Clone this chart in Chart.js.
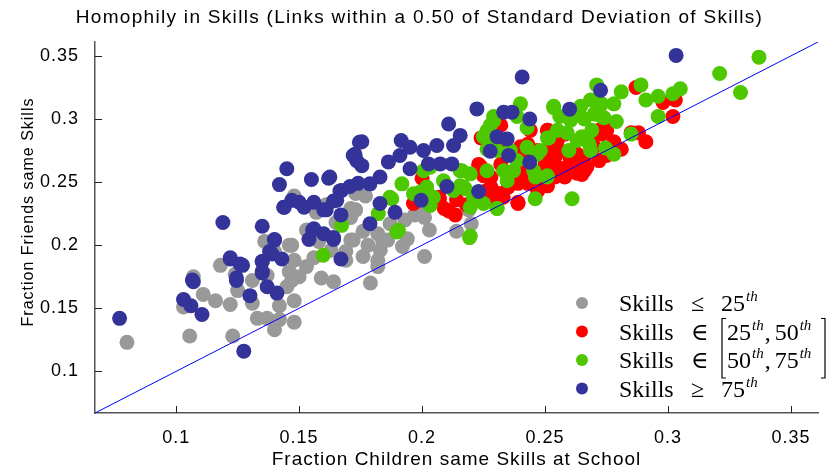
<!DOCTYPE html>
<html>
<head>
<meta charset="utf-8">
<script src="https://cdn.jsdelivr.net/npm/chart.js@4.4.1/dist/chart.umd.min.js"></script>
<style>
  body { margin: 0; background: #fff; }
  canvas { display: block; }
</style>
</head>
<body>
<canvas id="chart" width="839" height="473"></canvas>
<script>
const axisMin = 0.067
const axisMax = 0.361
const tickValues = [0.1, 0.15, 0.2, 0.25, 0.3, 0.35]

const chartTitle = 'Homophily in Skills (Links within a 0.50 of Standard Deviation of Skills)'
const yTitle = 'Fraction Friends same Skills'
const xTitle = 'Fraction Children same Skills at School'
const legendRelations = ['≤', '∈', '∈', '≥']
const legendBounds = [['25'], ['25', '50'], ['50', '75'], ['75']]

// skills <= 25th
const lowSkills = [
  [0.080,0.123],[0.1055,0.128],[0.123,0.128],[0.140,0.133],[0.148,0.139],[0.133,0.142],[0.137,0.142],[0.142,0.141],
  [0.103,0.151],[0.111,0.161],[0.116,0.156],[0.122,0.153],[0.131,0.154],[0.142,0.152],[0.148,0.156],[0.107,0.175],
  [0.125,0.164],[0.131,0.172],[0.137,0.176],[0.145,0.167],[0.147,0.172],[0.150,0.175],[0.153,0.183],[0.159,0.174],
  [0.164,0.171],[0.146,0.179],[0.136,0.203],[0.147,0.200],[0.171,0.204],[0.169,0.188],[0.179,0.170],[0.148,0.188],
  [0.169,0.195],[0.176,0.191],[0.178,0.200],[0.182,0.188],[0.183,0.196],[0.172,0.204],[0.176,0.211],[0.182,0.209],
  [0.186,0.204],[0.171,0.222],[0.173,0.228],[0.177,0.239],[0.192,0.199],[0.194,0.205],[0.201,0.191],[0.203,0.212],
  [0.200,0.224],[0.193,0.220],[0.187,0.217],[0.146,0.200],[0.148,0.239],[0.173,0.241],[0.214,0.211],[0.220,0.217],
  [0.184,0.203],[0.182,0.183],[0.171,0.229],[0.219,0.228],[0.201,0.222],[0.197,0.224],[0.161,0.232],[0.157,0.226],
  [0.165,0.218],[0.153,0.212],[0.158,0.203],[0.163,0.196],[0.156,0.190],[0.140,0.195],[0.124,0.177],[0.118,0.184]
]

// skills in [25th, 50th]
const midLowSkills = [
  [0.200,0.253],[0.1965,0.233],[0.209,0.229],[0.2135,0.224],[0.207,0.238],[0.214,0.236],[0.223,0.264],[0.225,0.255],
  [0.224,0.285],[0.232,0.295],[0.233,0.283],[0.228,0.246],[0.235,0.246],[0.239,0.249],[0.239,0.233],[0.233,0.238],
  [0.243,0.249],[0.247,0.246],[0.251,0.247],[0.241,0.259],[0.245,0.257],[0.239,0.270],[0.244,0.275],[0.251,0.275],
  [0.255,0.283],[0.258,0.288],[0.260,0.270],[0.263,0.262],[0.266,0.267],[0.255,0.262],[0.258,0.254],[0.250,0.264],
  [0.203,0.238],[0.207,0.236],[0.240,0.278],[0.243,0.280],[0.247,0.275],[0.251,0.276],[0.254,0.270],[0.256,0.275],
  [0.259,0.262],[0.265,0.264],[0.266,0.259],[0.263,0.257],[0.254,0.254],[0.247,0.251],[0.239,0.234],[0.247,0.243],
  [0.240,0.251],[0.236,0.254],[0.228,0.254],[0.231,0.241],[0.226,0.243],[0.224,0.262],[0.232,0.264],[0.241,0.264],
  [0.273,0.288],[0.275,0.291],[0.268,0.285],[0.270,0.278],[0.263,0.272],[0.272,0.267],[0.251,0.291],[0.226,0.285],
  [0.244,0.291],[0.287,0.325],[0.298,0.313],[0.303,0.315],[0.302,0.302],[0.291,0.282],[0.285,0.289],[0.288,0.289],
  [0.281,0.276],[0.278,0.282],[0.275,0.271],[0.267,0.262],[0.265,0.256],[0.275,0.291],[0.272,0.291],[0.241,0.263],
  [0.263,0.272],[0.251,0.291],[0.265,0.257],[0.211,0.227],[0.218,0.232],[0.229,0.236]
]

// skills in [50th, 75th]
const midHighSkills = [
  [0.337,0.349],[0.321,0.336],[0.3295,0.321],[0.305,0.324],[0.302,0.320],[0.296,0.318],[0.291,0.315],[0.289,0.327],
  [0.281,0.3215],[0.278,0.312],[0.270,0.315],[0.271,0.327],[0.296,0.302],[0.279,0.298],[0.2705,0.304],[0.273,0.302],
  [0.266,0.300],[0.285,0.288],[0.278,0.272],[0.2746,0.277],[0.268,0.280],[0.269,0.291],[0.265,0.286],[0.273,0.312],
  [0.274,0.301],[0.270,0.304],[0.2645,0.310],[0.2535,0.310],[0.256,0.302],[0.251,0.285],[0.255,0.291],[0.259,0.289],
  [0.263,0.283],[0.267,0.284],[0.2685,0.275],[0.2597,0.275],[0.2604,0.299],[0.240,0.312],[0.2386,0.302],[0.2427,0.293],
  [0.2291,0.302],[0.2277,0.295],[0.225,0.286],[0.2264,0.276],[0.2305,0.275],[0.2359,0.275],[0.2386,0.267],[0.2372,0.259],
  [0.2332,0.259],[0.2346,0.251],[0.2264,0.259],[0.2196,0.2565],[0.2155,0.259],[0.2169,0.246],[0.2128,0.2434],[0.2209,0.238],
  [0.225,0.233],[0.2305,0.229],[0.2196,0.230],[0.2019,0.246],[0.2046,0.238],[0.2006,0.259],[0.2033,0.2617],[0.246,0.2368],
  [0.261,0.2368],[0.2509,0.254],[0.2454,0.259],[0.2468,0.272],[0.2196,0.2073],[0.1918,0.2486],[0.1877,0.2368],[0.1904,0.2118],
  [0.1965,0.2408],[0.1992,0.242],[0.2026,0.2355],[0.2033,0.2315],[0.2087,0.251],[0.2162,0.259],[0.2155,0.247],[0.2176,0.2447],
  [0.2535,0.309],[0.2631,0.305],[0.2685,0.315],[0.2515,0.285],[0.2481,0.275],[0.2427,0.2775],[0.2291,0.2986],[0.2264,0.2907],
  [0.2277,0.280],[0.2461,0.254],[0.2509,0.255],[0.1897,0.2105],[0.1598,0.192],[0.1673,0.2157],[0.1822,0.225],[0.1869,0.238],
  [0.2193,0.206],[0.2305,0.229]
]

// skills >= 75th
const highSkills = [
  [0.077,0.142],[0.119,0.218],[0.135,0.215],[0.107,0.171],[0.103,0.157],[0.106,0.152],[0.1105,0.145],[0.1275,0.116],
  [0.122,0.189],[0.127,0.184],[0.1245,0.172],[0.130,0.160],[0.137,0.167],[0.141,0.162],[0.135,0.179],[0.135,0.187],
  [0.139,0.193],[0.143,0.189],[0.140,0.204],[0.154,0.2045],[0.1555,0.212],[0.160,0.209],[0.164,0.2045],[0.167,0.189],
  [0.144,0.230],[0.152,0.230],[0.160,0.228],[0.167,0.224],[0.145,0.2605],[0.142,0.248],[0.155,0.252],[0.162,0.253],
  [0.1437,0.230],[0.147,0.2355],[0.150,0.234],[0.156,0.234],[0.161,0.228],[0.164,0.235],[0.1666,0.243],[0.1707,0.2465],
  [0.174,0.249],[0.172,0.271],[0.1734,0.267],[0.1745,0.2815],[0.156,0.213],[0.164,0.206],[0.140,0.2045],[0.122,0.190],
  [0.126,0.185],[0.135,0.187],[0.138,0.195],[0.135,0.178],[0.1245,0.174],[0.1066,0.1724],[0.1755,0.282],[0.1727,0.272],
  [0.1755,0.263],[0.1625,0.254],[0.1915,0.283],[0.1863,0.266],[0.1951,0.2776],[0.2006,0.275],[0.206,0.279],[0.2108,0.296],
  [0.2155,0.287],[0.2128,0.279],[0.2121,0.2644],[0.2074,0.2644],[0.2026,0.2644],[0.1951,0.2605],[0.191,0.271],[0.1829,0.254],
  [0.1788,0.2486],[0.1673,0.2434],[0.1653,0.2355],[0.1829,0.233],[0.1788,0.217],[0.189,0.226],[0.1996,0.2355],[0.2101,0.2465],
  [0.223,0.2426],[0.2223,0.308],[0.2407,0.3333],[0.2332,0.3054],[0.2366,0.3054],[0.2438,0.300],[0.2305,0.286],[0.2346,0.2842],
  [0.2277,0.2744],[0.2352,0.271],[0.2438,0.2657],[0.260,0.3078],[0.3033,0.3504],[0.2726,0.3228]
]

const toPoints = arr => arr.map(p => ({x: p[0], y: p[1]}))

const sansFont = '"Liberation Sans", Arial, sans-serif'

// MATLAB-like text is a bit wider than the canvas default
const textSpacing = {
  id: 'textSpacing',
  beforeDraw(chart) {
    chart.ctx.letterSpacing = '1px'
  },
  afterDraw(chart) {
    const ctx = chart.ctx
    ctx.save()
    ctx.fillStyle = '#000'
    ctx.textAlign = 'center'
    ctx.textBaseline = 'middle'
    ctx.letterSpacing = '1.3px'
    ctx.font = '19px ' + sansFont
    ctx.fillText(chartTitle, chart.width / 2, 18)

    ctx.letterSpacing = '1px'
    ctx.font = '16px ' + sansFont
    ctx.translate(29, 212)
    ctx.rotate(-Math.PI / 2)
    ctx.fillText(yTitle, 0, 0)
    ctx.restore()
  }
}

const insideTicks = {
  id: 'insideTicks',
  afterDraw(chart) {
    const ctx = chart.ctx
    const area = chart.chartArea
    ctx.save()
    ctx.strokeStyle = '#222'
    ctx.lineWidth = 1
    ctx.beginPath()
    chart.scales.x.ticks.forEach(t => {
      const px = Math.round(chart.scales.x.getPixelForValue(t.value)) + 0.5
      ctx.moveTo(px, area.bottom)
      ctx.lineTo(px, area.bottom - 7)
    })
    chart.scales.y.ticks.forEach(t => {
      const py = Math.round(chart.scales.y.getPixelForValue(t.value)) + 0.5
      ctx.moveTo(area.left, py)
      ctx.lineTo(area.left + 7, py)
    })
    ctx.stroke()
    ctx.restore()
  }
}

const skillsLegend = {
  id: 'skillsLegend',
  afterDraw(chart) {
    const ctx = chart.ctx
    const colors = ['#999999', '#ff0000', '#4dc800', '#333399']
    const mainFont = '24px "Liberation Serif", "DejaVu Serif", serif'
    const supFont = 'italic 15px "Liberation Serif", "DejaVu Serif", serif'
    ctx.save()
    ctx.letterSpacing = '0px'
    ctx.textBaseline = 'alphabetic'
    ctx.fillStyle = '#000'
    for (let i = 0; i < 4; i++) {
      const base = 311 + i * 28.5
      ctx.fillStyle = colors[i]
      ctx.beginPath()
      ctx.arc(582, base - 8, 6, 0, Math.PI * 2)
      ctx.fill()

      ctx.fillStyle = '#000'
      ctx.save()
      ctx.beginPath()
      ctx.rect(600, base - 30, 223, 40)
      ctx.clip()
      ctx.font = mainFont
      ctx.fillText('Skills', 619, base)
      ctx.fillText(legendRelations[i], 691, base)
      let x = legendBounds[i].length > 1 ? 727 : 721
      legendBounds[i].forEach((b, k) => {
        if (k > 0) {
          ctx.font = mainFont
          ctx.fillText(',', x, base)
          x += ctx.measureText(', ').width - 2
        }
        ctx.font = mainFont
        ctx.fillText(b, x, base)
        x += ctx.measureText(b).width + 1
        ctx.font = supFont
        ctx.fillText('th', x, base - 10)
        x += ctx.measureText('th').width + 1
      })
      ctx.restore()
    }
    // tall brackets around the two interval rows
    const top = 311 + 28.5 - 21
    const bottom = 311 + 2 * 28.5 + 10
    ctx.strokeStyle = '#000'
    ctx.lineWidth = 1.2
    ctx.beginPath()
    ctx.moveTo(726, top); ctx.lineTo(722, top); ctx.lineTo(722, bottom); ctx.lineTo(726, bottom)
    ctx.moveTo(821, top); ctx.lineTo(825, top); ctx.lineTo(825, bottom); ctx.lineTo(821, bottom)
    ctx.stroke()
    ctx.restore()
  }
}

const data = {
  datasets: [
    {
      type: 'line',
      data: [{x: axisMin, y: axisMin}, {x: axisMax, y: axisMax}],
      borderColor: '#0000ff',
      borderWidth: 1,
      pointRadius: 0,
      order: 0
    },
    { data: toPoints(highSkills), backgroundColor: '#333399', order: 1 },
    { data: toPoints(midHighSkills), backgroundColor: '#4dc800', order: 2 },
    { data: toPoints(midLowSkills), backgroundColor: '#ff0000', order: 3 },
    { data: toPoints(lowSkills), backgroundColor: '#999999', order: 4 }
  ]
}

const axisCommon = {
  type: 'linear',
  min: axisMin,
  max: axisMax,
  grid: { display: false, drawTicks: false },
  border: { display: true, color: '#555', width: 1.5 },
  afterBuildTicks: scale => { scale.ticks = tickValues.map(v => ({value: v})) },
  ticks: {
    color: '#000',
    font: { family: sansFont, size: 18 },
    callback: v => String(+v.toFixed(2))
  }
}

const ctx = document.getElementById('chart')

var myChart = new Chart(ctx, {
  type: 'scatter',
  data: data,
  plugins: [textSpacing, insideTicks, skillsLegend],
  options: {
    responsive: false,
    animation: false,
    devicePixelRatio: 1,
    layout: { padding: { left: 0, right: 21, top: 42, bottom: 0 } },
    elements: {
      point: { radius: 7.5, borderWidth: 0, hoverRadius: 7.5 }
    },
    plugins: {
      legend: { display: false },
      tooltip: { enabled: false },
      title: { display: false }
    },
    scales: {
      x: Object.assign({}, axisCommon, {
        position: 'bottom',
        ticks: Object.assign({}, axisCommon.ticks, { padding: 14, maxRotation: 0 }),
        title: {
          display: true,
          text: xTitle,
          color: '#000',
          font: { family: sansFont, size: 19 },
          padding: { top: 0, bottom: 2 }
        },
        afterFit: s => { s.height = 60 }
      }),
      y: Object.assign({}, axisCommon, {
        position: 'left',
        ticks: Object.assign({}, axisCommon.ticks, { padding: 16 }),
        title: { display: false },
        afterFit: s => { s.width = 95 }
      })
    }
  }
})
</script>
</body>
</html>
